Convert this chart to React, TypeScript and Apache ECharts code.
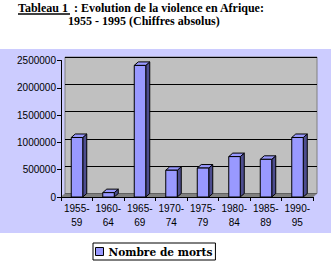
import React, { useEffect, useRef } from 'react';
import * as echarts from 'echarts';

const categories = ['1955-\n59', '1960-\n64', '1965-\n69', '1970-\n74', '1975-\n79', '1980-\n84', '1985-\n89', '1990-\n95'];
const deaths = [1090000, 80000, 2410000, 490000, 530000, 740000, 690000, 1090000];
const seriesName = 'Nombre de morts';
const titleLead = 'Tableau 1  : Evolution de la violence en Afrique:';
const titleLine2 = '1955 - 1995 (Chiffres absolus)';
const yMax = 2500000;
const yInterval = 500000;

const W = 331;
const H = 261;
// front plane
const FL = 61, FR = 313, FT = 60.5, FB = 197;
// depth offset
const DX = 4, DY = -3.5;

export default function App() {
  const ref = useRef<HTMLDivElement>(null);
  useEffect(() => {
    if (!ref.current) return;
    const chart = echarts.init(ref.current, undefined, { renderer: 'svg' });
    const option: any = {
      animation: false,
      backgroundColor: '#ffffff',
      grid: [
        { left: FL, right: W - FR, top: FT, bottom: H - FB, containLabel: false },
        {
          left: FL + DX, right: W - FR - DX, top: FT + DY, bottom: H - FB - DY,
          show: true, backgroundColor: '#c0c0c0', borderColor: '#808080', borderWidth: 1, z: 0,
        },
      ],
      xAxis: [
        {
          gridIndex: 0, type: 'category', data: categories, boundaryGap: true, z: 3,
          axisLine: { lineStyle: { color: '#000', width: 1 } },
          axisTick: { show: true, length: 4, lineStyle: { color: '#000' } },
          axisLabel: { color: '#000', fontSize: 10, fontFamily: '"Liberation Sans", Arial, sans-serif', margin: 4, lineHeight: 14, interval: 0 },
          splitLine: { show: false },
        },
        { gridIndex: 1, type: 'category', data: categories, show: false },
      ],
      yAxis: [
        {
          gridIndex: 0, type: 'value', min: 0, max: yMax, interval: yInterval, z: 3,
          axisLine: { show: true, lineStyle: { color: '#000', width: 1 } },
          axisTick: { show: true, length: 4, lineStyle: { color: '#000' } },
          axisLabel: { color: '#000', fontSize: 10, fontFamily: '"Liberation Sans", Arial, sans-serif', margin: 5, formatter: (v: number) => String(v) },
          splitLine: { show: false },
        },
        {
          gridIndex: 1, type: 'value', min: 0, max: yMax, interval: yInterval,
          axisLine: { show: false }, axisTick: { show: false }, axisLabel: { show: false },
          splitLine: { show: true, lineStyle: { color: '#000', width: 1 } },
        },
      ],
      legend: {
        left: 93, top: 243,
        padding: [2, 3, 2, 2],
        backgroundColor: '#ffffff', borderColor: '#000', borderWidth: 1, borderRadius: 0,
        itemWidth: 8, itemHeight: 8,
        textStyle: { color: '#000', fontSize: 10.6, fontWeight: 'bold', fontFamily: '"DejaVu Serif", serif', lineHeight: 13 },
        data: [{ name: seriesName, icon: 'rect', itemStyle: { color: '#9999ff', borderColor: '#000', borderWidth: 1 } }],
      },
      graphic: [
        { type: 'rect', z: -10, shape: { x: 0, y: 49, width: W, height: 184 }, style: { fill: '#ccccff' } },
        {
          type: 'polygon', z: 1,
          shape: { points: [[FL, FB], [FR, FB], [FR + DX, FB + DY], [FL + DX, FB + DY]] },
          style: { fill: '#808080', stroke: '#808080', lineWidth: 0.5 },
        },
        {
          type: 'text', x: 18, y: 8, z: 5,
          style: { text: titleLead, font: 'bold 12px "Liberation Serif", "Times New Roman", serif', fill: '#000', verticalAlign: 'middle' },
        },
        { type: 'line', z: 5, shape: { x1: 18, y1: 14, x2: 70, y2: 14 }, style: { stroke: '#000', lineWidth: 1.5 } },
        {
          type: 'text', x: 68, y: 21, z: 5,
          style: { text: titleLine2, font: 'bold 12px "Liberation Serif", "Times New Roman", serif', fill: '#000', verticalAlign: 'middle' },
        },
      ],
      series: [
        {
          name: seriesName,
          type: 'custom',
          xAxisIndex: 0, yAxisIndex: 0,
          z: 2,
          itemStyle: { color: '#9999ff', borderColor: '#000', borderWidth: 1 },
          encode: { x: 0, y: 1 },
          data: deaths.map((v, i) => [i, v]),
          renderItem: (params: any, api: any) => {
            const idx = api.value(0);
            const val = api.value(1);
            const base = api.coord([idx, 0]);
            const top = api.coord([idx, val]);
            const x0 = base[0] - 5.5, x1 = base[0] + 6;
            const yb = base[1], yt = top[1];
            const st = (fill: string) => ({ fill, stroke: '#000', lineWidth: 1 });
            return {
              type: 'group',
              children: [
                { type: 'polygon', shape: { points: [[x1, yt], [x1 + DX, yt + DY], [x1 + DX, yb + DY], [x1, yb]] }, style: st('#4d4d8f') },
                { type: 'polygon', shape: { points: [[x0, yt], [x1, yt], [x1 + DX, yt + DY], [x0 + DX, yt + DY]] }, style: st('#9999ff') },
                { type: 'polygon', shape: { points: [[x0, yt], [x1, yt], [x1, yb], [x0, yb]] }, style: st('#9999ff') },
              ],
            };
          },
        },
      ],
    };
    chart.setOption(option);
    return () => chart.dispose();
  }, []);
  return <div ref={ref} style={{ position: 'absolute', left: 0, top: 0, width: W, height: H }} />;
}
